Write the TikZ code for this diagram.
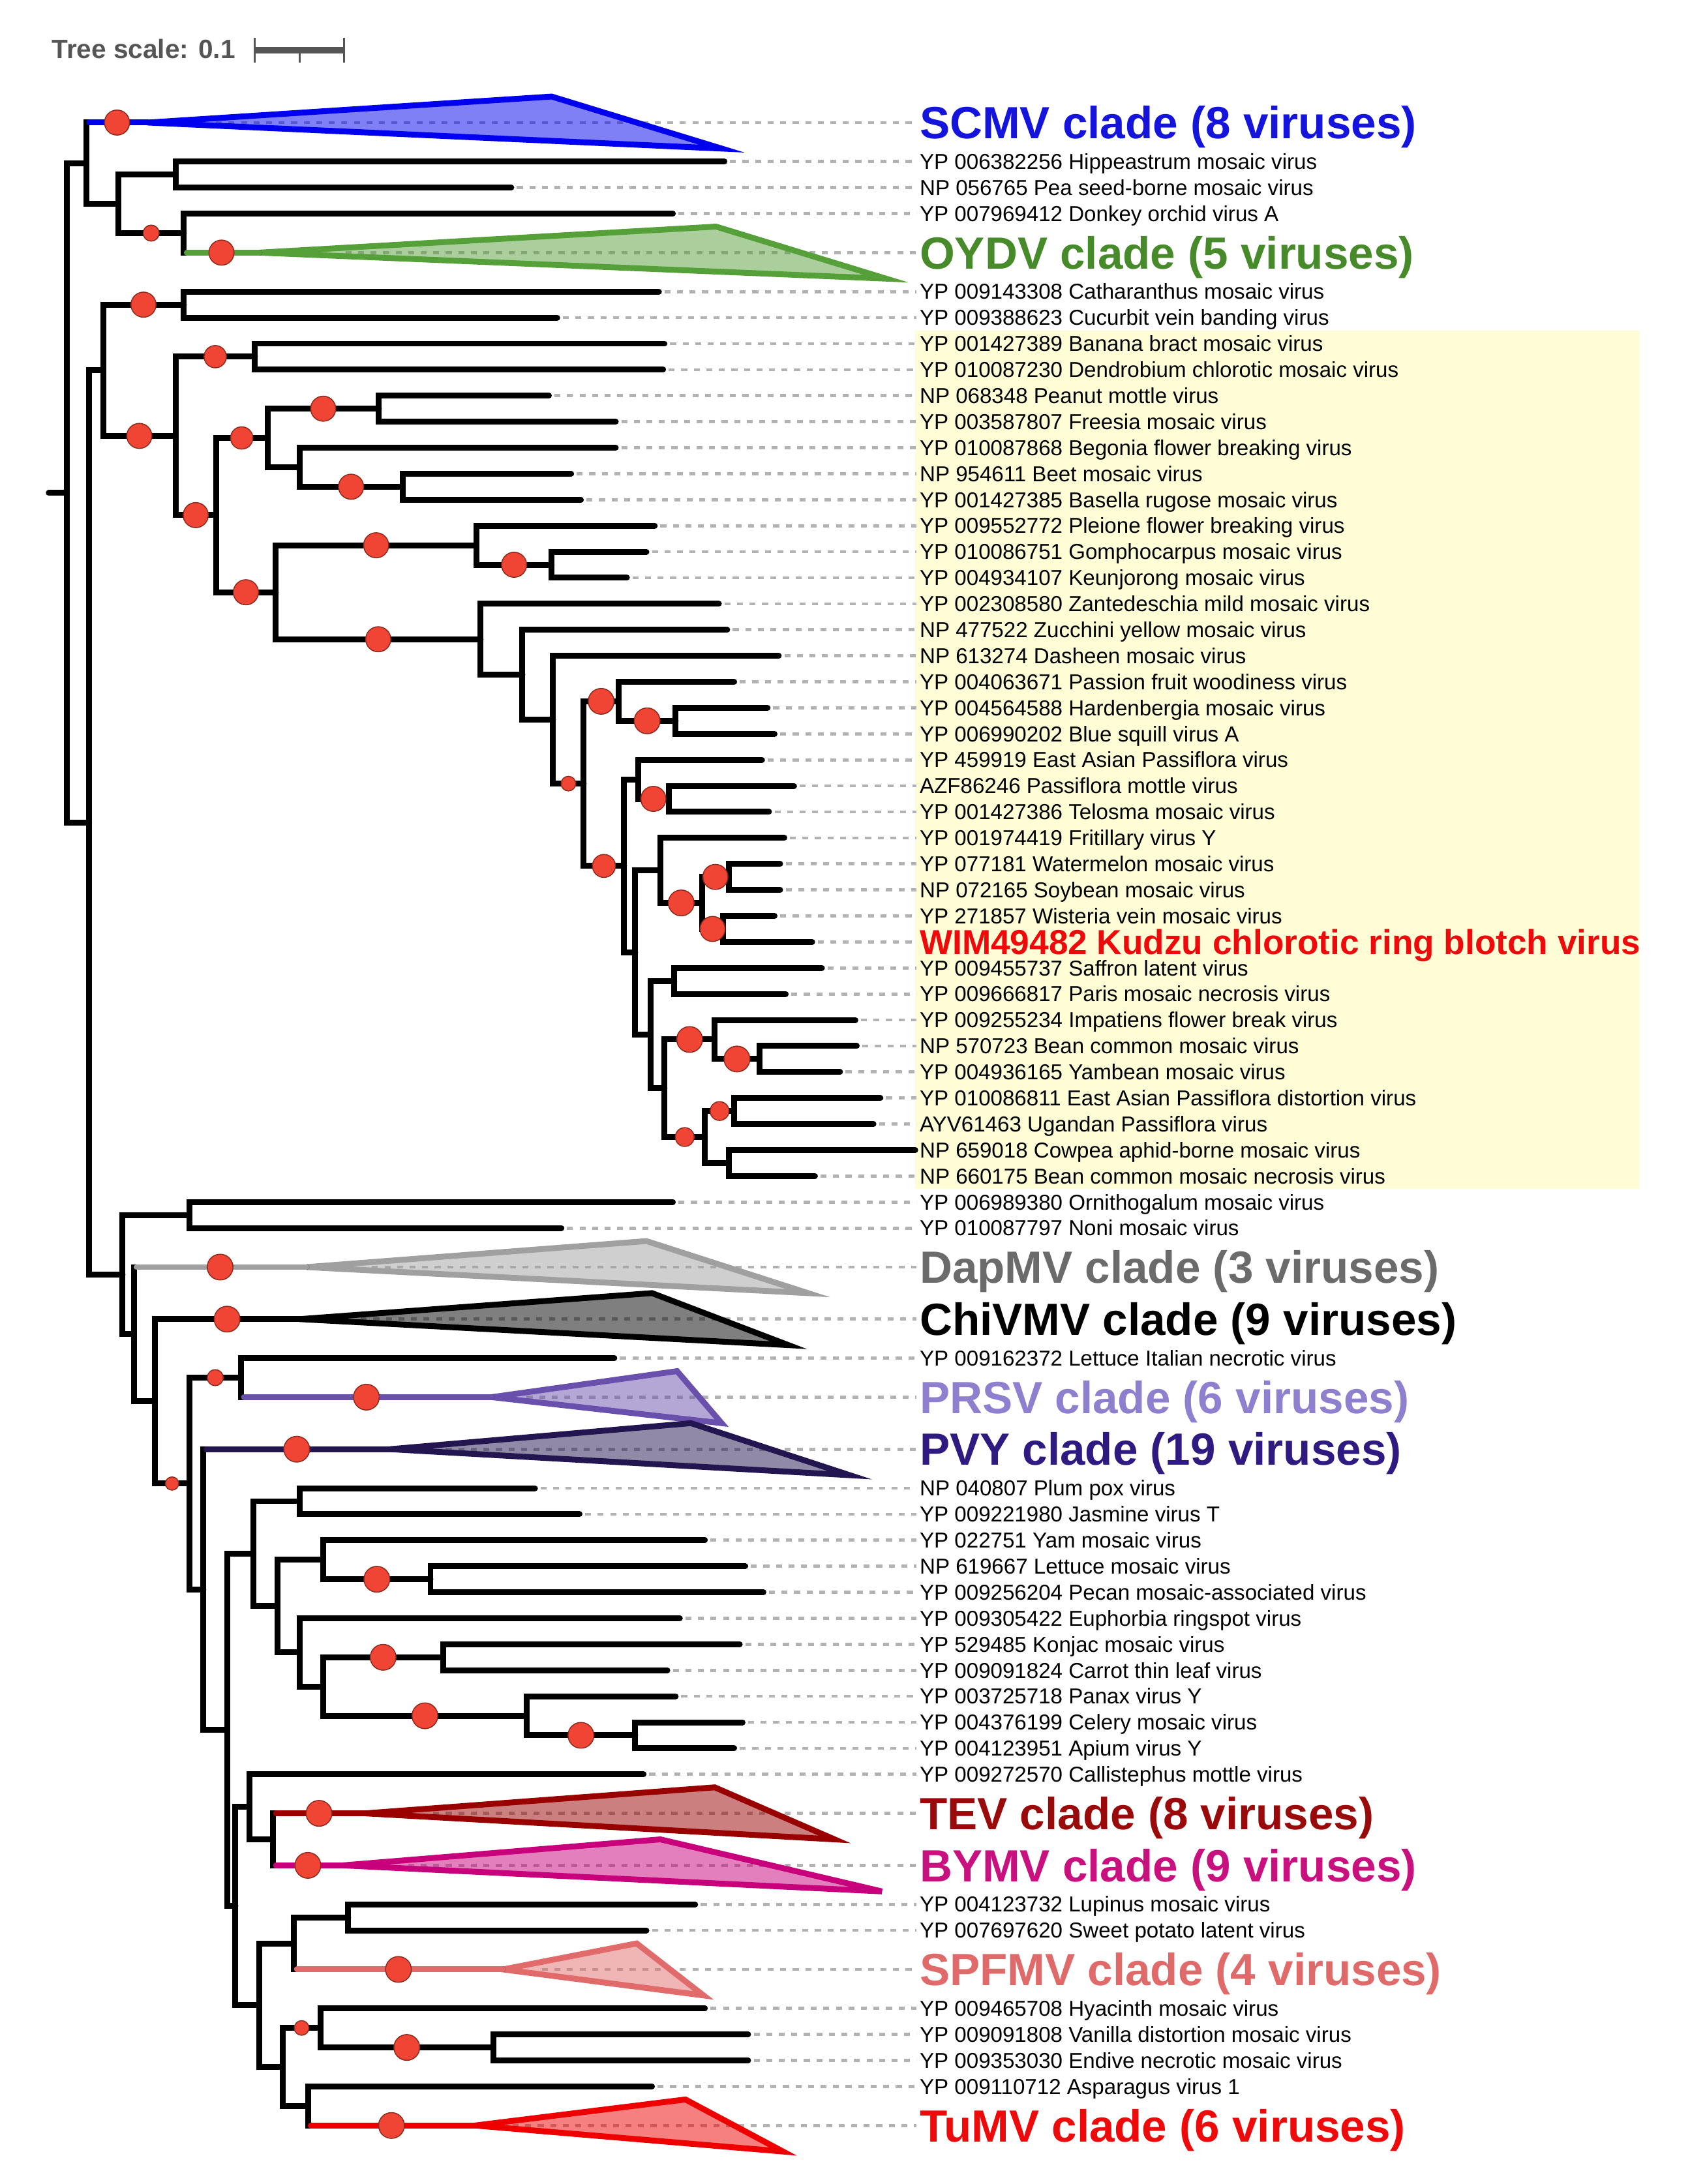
\documentclass[tikz,border=0pt]{standalone}
\usepackage{fontspec}
\setmainfont{Liberation Sans}
\usetikzlibrary{calc}

% clade colours (line) and label colours
\definecolor{scmv}{HTML}{0000EE}   \definecolor{scmvtxt}{HTML}{1414DC}
\definecolor{oydv}{HTML}{56A03A}   \definecolor{oydvtxt}{HTML}{468A2A}
\definecolor{dapmv}{HTML}{A0A0A0}  \definecolor{dapmvtxt}{HTML}{6B6B6B}
\definecolor{chivmv}{HTML}{000000} \definecolor{chivmvtxt}{HTML}{000000}
\definecolor{prsv}{HTML}{6A50AD}   \definecolor{prsvtxt}{HTML}{8F80CF}
\definecolor{pvy}{HTML}{231650}    \definecolor{pvytxt}{HTML}{2E1A80}
\definecolor{tev}{HTML}{990000}    \definecolor{tevtxt}{HTML}{9A0A0A}
\definecolor{bymv}{HTML}{C9007B}   \definecolor{bymvtxt}{HTML}{C8107F}
\definecolor{spfmv}{HTML}{E16B6B}  \definecolor{spfmvtxt}{HTML}{E06A6A}
\definecolor{tumv}{HTML}{EE0000}   \definecolor{tumvtxt}{HTML}{EE0A0A}
\definecolor{dotred}{HTML}{F04535}
\definecolor{dotedge}{HTML}{8C2A1E}
\definecolor{hilite}{HTML}{FEFDD6}
\definecolor{scalegrey}{HTML}{555555}

\begin{document}
\begin{tikzpicture}[x=1pt, y=-18.675pt,
    br/.style={line width=4.2pt, line cap=round, line join=miter},
    leader/.style={draw=black!30, line width=2.2pt, dash pattern=on 4.3pt off 4.7pt, shorten >=2pt},
    leaf/.style={anchor=base west, inner sep=0pt, yshift=-5.5pt, font=\fontsize{15.5}{16}\selectfont},
    kudzu/.style={anchor=base west, inner sep=0pt, yshift=-8.9pt, text=tumvtxt, font=\bfseries\fontsize{24.9}{26}\selectfont},
    cladelab/.style={anchor=base west, inner sep=0pt, yshift=-11.6pt, font=\bfseries\fontsize{32.4}{34}\selectfont},
    clade/.style={draw=#1, fill=#1, fill opacity=.5, line width=4.2pt, line join=miter},
    bsdot/.style={circle, inner sep=0pt, minimum size=#1, fill=dotred, draw=dotedge, line width=.7pt}]
  \useasboundingbox (0,-4.712) rectangle (1213,79.25);

  % highlighted block behind the labels
  \fill[hilite] (657,8.0) rectangle (1177,41.0);

  % tree scale
  \node[anchor=base west, inner sep=0pt, yshift=-6.9pt, text=scalegrey,
        font=\bfseries\fontsize{19}{20}\selectfont] (tscale) at (37,-2.84) {Tree scale: 0.1};
  \coordinate (sb1) at (183,-2.785);
  \coordinate (sb2) at (247,-2.785);
  \draw[scalegrey, line width=4.5pt] (sb1) -- (sb2);
  \draw[scalegrey, line width=1.3pt] (183,-3.27) -- (183,-2.30);
  \draw[scalegrey, line width=1.3pt] (247,-3.27) -- (247,-2.30);
  \draw[scalegrey, line width=1.3pt] (215,-2.78) -- (215,-2.30);

  % leaves: row / y / tip / name
  \foreach \i/\u/\x/\txt in {
    2/1.5/520/YP 006382256 Hippeastrum mosaic virus,
    3/2.5/367/NP 056765 Pea seed-borne mosaic virus,
    4/3.5/483/YP 007969412 Donkey orchid virus A,
    6/6.5/473/YP 009143308 Catharanthus mosaic virus,
    7/7.5/400/YP 009388623 Cucurbit vein banding virus,
    8/8.5/477/YP 001427389 Banana bract mosaic virus,
    9/9.5/476/YP 010087230 Dendrobium chlorotic mosaic virus,
    10/10.5/394/NP 068348 Peanut mottle virus,
    11/11.5/442/YP 003587807 Freesia mosaic virus,
    12/12.5/442/YP 010087868 Begonia flower breaking virus,
    13/13.5/410/NP 954611 Beet mosaic virus,
    14/14.5/417/YP 001427385 Basella rugose mosaic virus,
    15/15.5/470/YP 009552772 Pleione flower breaking virus,
    16/16.5/464/YP 010086751 Gomphocarpus mosaic virus,
    17/17.5/450/YP 004934107 Keunjorong mosaic virus,
    18/18.5/516/YP 002308580 Zantedeschia mild mosaic virus,
    19/19.5/522/NP 477522 Zucchini yellow mosaic virus,
    20/20.5/559/NP 613274 Dasheen mosaic virus,
    21/21.5/527/YP 004063671 Passion fruit woodiness virus,
    22/22.5/551/YP 004564588 Hardenbergia mosaic virus,
    23/23.5/556/YP 006990202 Blue squill virus A,
    24/24.5/547/YP 459919 East Asian Passiflora virus,
    25/25.5/570/AZF86246 Passiflora mottle virus,
    26/26.5/552/YP 001427386 Telosma mosaic virus,
    27/27.5/563/YP 001974419 Fritillary virus Y,
    28/28.5/560/YP 077181 Watermelon mosaic virus,
    29/29.5/560/NP 072165 Soybean mosaic virus,
    30/30.5/556/YP 271857 Wisteria vein mosaic virus,
    32/32.5/590/YP 009455737 Saffron latent virus,
    33/33.5/564/YP 009666817 Paris mosaic necrosis virus,
    34/34.5/614/YP 009255234 Impatiens flower break virus,
    35/35.5/615/NP 570723 Bean common mosaic virus,
    36/36.5/603/YP 004936165 Yambean mosaic virus,
    37/37.5/632/YP 010086811 East Asian Passiflora distortion virus,
    38/38.5/627/AYV61463 Ugandan Passiflora virus,
    40/40.5/585/NP 660175 Bean common mosaic necrosis virus,
    41/41.5/483/YP 006989380 Ornithogalum mosaic virus,
    42/42.5/403/YP 010087797 Noni mosaic virus,
    45/47.5/441/YP 009162372 Lettuce Italian necrotic virus,
    48/52.5/384/NP 040807 Plum pox virus,
    49/53.5/416/YP 009221980 Jasmine virus T,
    50/54.5/506/YP 022751 Yam mosaic virus,
    51/55.5/535/NP 619667 Lettuce mosaic virus,
    52/56.5/548/YP 009256204 Pecan mosaic-associated virus,
    53/57.5/488/YP 009305422 Euphorbia ringspot virus,
    54/58.5/531/YP 529485 Konjac mosaic virus,
    55/59.5/479/YP 009091824 Carrot thin leaf virus,
    56/60.5/485/YP 003725718 Panax virus Y,
    57/61.5/533/YP 004376199 Celery mosaic virus,
    58/62.5/527/YP 004123951 Apium virus Y,
    59/63.5/462/YP 009272570 Callistephus mottle virus,
    62/68.5/499/YP 004123732 Lupinus mosaic virus,
    63/69.5/464/YP 007697620 Sweet potato latent virus,
    65/72.5/506/YP 009465708 Hyacinth mosaic virus,
    66/73.5/537/YP 009091808 Vanilla distortion mosaic virus,
    67/74.5/537/YP 009353030 Endive necrotic mosaic virus,
    68/75.5/468/YP 009110712 Asparagus virus 1}
  {
    \coordinate (t\i) at (\x,\u);
    \node[leaf] (l\i) at (660,\u) {\txt};
    \draw[leader] ([xshift=4pt]t\i) -- (l\i.west |- t\i);
  }

  % Kudzu, the new one
  \coordinate (t31) at (583,31.5);
  \node[kudzu] (l31) at (660,31.5) {WIM49482 Kudzu chlorotic ring blotch virus};
  \draw[leader] ([xshift=4pt]t31) -- (l31.west |- t31);
  % Cowpea reaches the labels
  \coordinate (t39) at (657,39.5);
  \node[leaf] (l39) at (660,39.5) {NP 659018 Cowpea aphid-borne mosaic virus};

  % collapsed clades: name / y / apex / top / bottom / dashes from / label
  \foreach \nm/\u/\ax/\tx/\bx/\sx/\txt in {
    scmv/0/106/396/518/155/SCMV clade (8 viruses),
    oydv/5/186/514/636/248/OYDV clade (5 viruses),
    dapmv/44/220/464/580/267/DapMV clade (3 viruses),
    chivmv/46/215/468/566/259/ChiVMV clade (9 viruses),
    prsv/49/353/486/518/378/PRSV clade (6 viruses),
    pvy/51/280/496/610/320/PVY clade (19 viruses),
    tev/65/262/513/599/311/TEV clade (8 viruses),
    bymv/67/246/474/633/293/BYMV clade (9 viruses),
    spfmv/71/361/457/505/389/SPFMV clade (4 viruses),
    tumv/77/341/492/562/368/TuMV clade (6 viruses)}
  {
    \coordinate (\nm A) at (\ax,\u);
    \coordinate (\nm S) at (\sx,\u);
    \node[cladelab, text=\nm txt] (\nm lab) at (660,\u) {\txt};
    \draw[leader] (\nm S) -- (\nm lab.west |- \nm A);
    \draw[clade=\nm] (\nm A) -- (\tx,\u-1) -- (\bx,\u+1) -- cycle;
  }

  % internal nodes
  \coordinate (rt0) at (35,14.24);
  \coordinate (root) at (48,14.24);
  \coordinate (nA) at (62,1.5625);
  \coordinate (nB) at (85,3.125);
  \coordinate (nC) at (126,2);
  \coordinate (nD) at (132,4.25);
  \coordinate (nE) at (64,26.91);
  \coordinate (nF) at (74,9.523);
  \coordinate (nCath) at (132,7);
  \coordinate (nG) at (126,12.046);
  \coordinate (nH) at (183,9);
  \coordinate (nI) at (155,15.091);
  \coordinate (nJ) at (192,12.125);
  \coordinate (nL) at (272,11);
  \coordinate (nM) at (215,13.25);
  \coordinate (nN) at (289,14);
  \coordinate (nK) at (198,18.057);
  \coordinate (nO) at (342,16.25);
  \coordinate (nQ) at (396,17);
  \coordinate (nP) at (345,19.864);
  \coordinate (nR) at (375,21.229);
  \coordinate (nS) at (397,22.957);
  \coordinate (nT) at (419,25.414);
  \coordinate (nU) at (444,22.25);
  \coordinate (nW) at (485,23);
  \coordinate (nV) at (448,28.578);
  \coordinate (nX) at (458,25.25);
  \coordinate (nAB) at (480,26);
  \coordinate (nY) at (456,31.906);
  \coordinate (nZ) at (474,28.75);
  \coordinate (nAC) at (504,30);
  \coordinate (nAD) at (523,29);
  \coordinate (nAE) at (519,31);
  \coordinate (nAA) at (467,35.0625);
  \coordinate (nAF) at (484,33);
  \coordinate (nAG) at (477,37.125);
  \coordinate (nAH) at (513,35.25);
  \coordinate (nAJ) at (545,36);
  \coordinate (nAI) at (506,39);
  \coordinate (nAK) at (527,38);
  \coordinate (nAL) at (523,40);
  \coordinate (nBA) at (88,44.29);
  \coordinate (nBB) at (136,42);
  \coordinate (nBC) at (96,46.58);
  \coordinate (nBD) at (111,49.16);
  \coordinate (nBE) at (136,52.32);
  \coordinate (nBF) at (173,48.25);
  \coordinate (nBG) at (146,56.395);
  \coordinate (nBH) at (163,61.789);
  \coordinate (nBJ) at (182,55.016);
  \coordinate (nBI) at (215,53);
  \coordinate (nBK) at (199,57.03);
  \coordinate (nBL) at (232,55.25);
  \coordinate (nBN) at (309,56);
  \coordinate (nBM) at (215,58.8125);
  \coordinate (nBO) at (232,60.125);
  \coordinate (nBP) at (318,59);
  \coordinate (nBQ) at (378,61.25);
  \coordinate (nBR) at (456,62);
  \coordinate (nBV) at (169,68.5625);
  \coordinate (nBS) at (179,64.75);
  \coordinate (nBU) at (196,66);
  \coordinate (nBW) at (186,72.375);
  \coordinate (nBX) at (211,70);
  \coordinate (nBZ) at (250,69);
  \coordinate (nBY) at (203,74.75);
  \coordinate (nCA) at (230,73.25);
  \coordinate (nCC) at (354,74);
  \coordinate (nCB) at (221,76.25);

  % branches, upper part
  \draw[br] (rt0) -- (root);
  \draw[br] (nA) -| (root) |- (nE);
  \draw[br] (scmvA) -| (nA) |- (nB);
  \draw[br] (nC) -| (nB) |- (nD);
  \draw[br] (t2) -| (nC) |- (t3);
  \draw[br] (t4) -| (nD) |- (oydvA);
  \draw[br] (nF) -| (nE) |- (nBA);
  \draw[br] (nCath) -| (nF) |- (nG);
  \draw[br] (t6) -| (nCath) |- (t7);
  \draw[br] (nH) -| (nG) |- (nI);
  \draw[br] (t8) -| (nH) |- (t9);
  \draw[br] (nJ) -| (nI) |- (nK);
  \draw[br] (nL) -| (nJ) |- (nM);
  \draw[br] (t10) -| (nL) |- (t11);
  \draw[br] (t12) -| (nM) |- (nN);
  \draw[br] (t13) -| (nN) |- (t14);
  \draw[br] (nO) -| (nK) |- (nP);
  \draw[br] (t15) -| (nO) |- (nQ);
  \draw[br] (t16) -| (nQ) |- (t17);
  \draw[br] (t18) -| (nP) |- (nR);
  \draw[br] (t19) -| (nR) |- (nS);
  \draw[br] (t20) -| (nS) |- (nT);
  \draw[br] (nU) -| (nT) |- (nV);
  \draw[br] (t21) -| (nU) |- (nW);
  \draw[br] (t22) -| (nW) |- (t23);
  \draw[br] (nX) -| (nV) |- (nY);
  \draw[br] (t24) -| (nX) |- (nAB);
  \draw[br] (t25) -| (nAB) |- (t26);
  \draw[br] (nZ) -| (nY) |- (nAA);
  \draw[br] (t27) -| (nZ) |- (nAC);
  \draw[br] (nAD) -| (nAC) |- (nAE);
  \draw[br] (t28) -| (nAD) |- (t29);
  \draw[br] (t30) -| (nAE) |- (t31);
  \draw[br] (nAF) -| (nAA) |- (nAG);
  \draw[br] (t32) -| (nAF) |- (t33);
  \draw[br] (nAH) -| (nAG) |- (nAI);
  \draw[br] (t34) -| (nAH) |- (nAJ);
  \draw[br] (t35) -| (nAJ) |- (t36);
  \draw[br] (nAK) -| (nAI) |- (nAL);
  \draw[br] (t37) -| (nAK) |- (t38);
  \draw[br] (t39) -| (nAL) |- (t40);

  % branches, lower part
  \draw[br] (nBB) -| (nBA) |- (nBC);
  \draw[br] (t41) -| (nBB) |- (t42);
  \draw[br] (dapmvA) -| (nBC) |- (nBD);
  \draw[br] (chivmvA) -| (nBD) |- (nBE);
  \draw[br] (nBF) -| (nBE) |- (nBG);
  \draw[br] (t45) -| (nBF) |- (prsvA);
  \draw[br] (pvyA) -| (nBG) |- (nBH);
  \draw[br] (nBJ) -| (nBH) |- (nBV);
  \draw[br] (nBI) -| (nBJ) |- (nBK);
  \draw[br] (t48) -| (nBI) |- (t49);
  \draw[br] (nBL) -| (nBK) |- (nBM);
  \draw[br] (t50) -| (nBL) |- (nBN);
  \draw[br] (t51) -| (nBN) |- (t52);
  \draw[br] (t53) -| (nBM) |- (nBO);
  \draw[br] (nBP) -| (nBO) |- (nBQ);
  \draw[br] (t54) -| (nBP) |- (t55);
  \draw[br] (t56) -| (nBQ) |- (nBR);
  \draw[br] (t57) -| (nBR) |- (t58);
  \draw[br] (nBS) -| (nBV) |- (nBW);
  \draw[br] (t59) -| (nBS) |- (nBU);
  \draw[br] (tevA) -| (nBU) |- (bymvA);
  \draw[br] (nBX) -| (nBW) |- (nBY);
  \draw[br] (nBZ) -| (nBX) |- (spfmvA);
  \draw[br] (t62) -| (nBZ) |- (t63);
  \draw[br] (nCA) -| (nBY) |- (nCB);
  \draw[br] (t65) -| (nCA) |- (nCC);
  \draw[br] (t66) -| (nCC) |- (t67);
  \draw[br] (t68) -| (nCB) |- (tumvA);

  % coloured stems of the collapsed clades
  \foreach \pn/\nm in {nA/scmv, nD/oydv, nBC/dapmv, nBD/chivmv, nBF/prsv,
                        nBG/pvy, nBU/tev, nBU/bymv, nBX/spfmv, nCB/tumv}
    \draw[br, draw=\nm] ($(\pn |- \nm A)+(2.1,0)$) -- (\nm A);

  % support dots: parent / child / size
  \foreach \pn/\ch/\dm [count=\k] in {
    nA/scmvA/18, nB/nD/11.5, nD/oydvA/18, nF/nCath/18, nF/nG/18,
    nG/nH/16, nG/nI/18, nI/nJ/16, nI/nK/18, nJ/nL/18, nM/nN/18,
    nK/nO/18, nK/nP/18, nO/nQ/18, nS/nT/10.5, nT/nU/18.5, nT/nV/16.5,
    nU/nW/18.5, nX/nAB/18, nZ/nAC/18.5, nAC/nAD/18, nAC/nAE/18,
    nAG/nAH/18.5, nAH/nAJ/18.5, nAG/nAI/13.5, nAI/nAK/13.5,
    nBC/dapmvA/18.5, nBD/chivmvA/18.5, nBD/nBE/9.5, nBE/nBF/11.5,
    nBF/prsvA/18.5, nBG/pvyA/18.5, nBL/nBN/18.5, nBO/nBP/18.5,
    nBO/nBQ/18.5, nBQ/nBR/18.5, nBU/tevA/18.5, nBU/bymvA/18.5,
    nBX/spfmvA/18.5, nBY/nCA/10.5, nCA/nCC/18.5, nCB/tumvA/18.5}
    \node[bsdot=\dm pt] (bs\k) at ($(\pn |- \ch)!.5!(\ch)$) {};
\end{tikzpicture}
\end{document}
